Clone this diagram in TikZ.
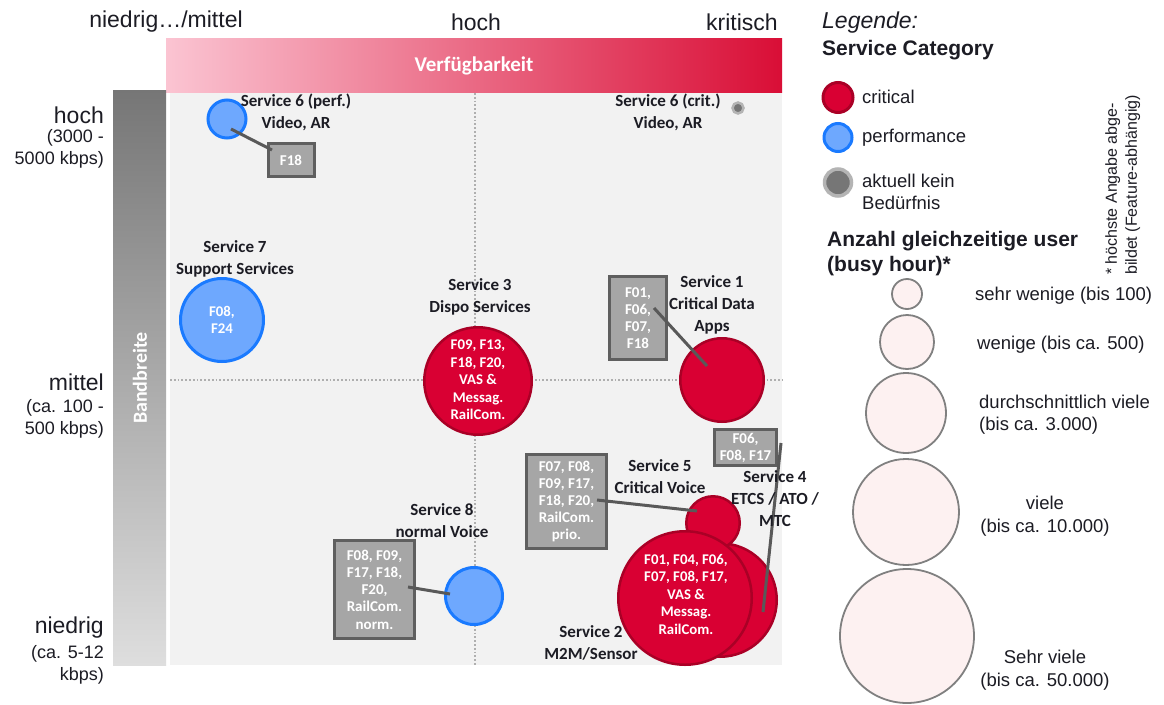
\documentclass[tikz,border=0pt]{standalone}
\usepackage{fontspec}
\setmainfont{Liberation Sans}
\newfontfamily\calfont{Carlito}
\usetikzlibrary{calc}

\definecolor{txt}{RGB}{28,28,36}
\definecolor{critfill}{RGB}{217,0,51}
\definecolor{critline}{RGB}{170,0,38}
\definecolor{perffill}{RGB}{110,168,254}
\definecolor{perfline}{RGB}{26,122,255}
\definecolor{boxfill}{RGB}{166,166,166}
\definecolor{boxline}{RGB}{95,95,95}
\definecolor{linkcol}{RGB}{89,89,89}
\definecolor{plotbg}{RGB}{242,242,242}
\definecolor{gridcol}{RGB}{175,175,175}
\definecolor{sizefill}{RGB}{253,241,241}
\definecolor{sizeline}{RGB}{128,128,128}
\definecolor{nodotfill}{RGB}{118,118,118}
\definecolor{nodotline}{RGB}{180,180,180}

\begin{document}
\begin{tikzpicture}[x=1pt,y=-1pt,
  axis/.style={font=\fontsize{23}{26}\selectfont, text=txt},
  sub/.style={font=\fontsize{18}{22}\selectfont, text=txt, align=right, anchor=east, inner sep=0pt},
  svc/.style={font=\calfont\bfseries\fontsize{17}{22}\selectfont, text=txt, align=center, inner sep=0pt},
  feat/.style={draw=boxline, line width=3pt, fill=boxfill, text=white,
    font=\calfont\bfseries\fontsize{15}{17.2}\selectfont, align=center, inner sep=0pt},
  intext/.style={text=white, font=\calfont\bfseries\fontsize{14.8}{17.5}\selectfont, align=center, inner sep=0pt},
  crit/.style={circle, draw=critline, line width=2.5pt, fill=critfill, inner sep=0pt},
  perf/.style={circle, draw=perfline, line width=3pt, fill=perffill, inner sep=0pt},
  nodot/.style={circle, draw=nodotline, line width=2.5pt, fill=nodotfill, inner sep=0pt},
  link/.style={draw=linkcol, line width=3pt},
  grid/.style={draw=gridcol, line width=1.8pt, dotted},
  sizec/.style={circle, draw=sizeline, line width=1.8pt, fill=sizefill, inner sep=0pt},
  leg/.style={font=\fontsize{18.5}{21.5}\selectfont, text=txt, align=left, anchor=west, inner sep=0pt},
  legc/.style={font=\fontsize{18.5}{23}\selectfont, text=txt, align=center, inner sep=0pt},
  head/.style={font=\bfseries\fontsize{21}{25}\selectfont, text=txt, align=left, anchor=west, inner sep=0pt},
]
\useasboundingbox (0,0) rectangle (1164,704);
\fill[white] (0,0) rectangle (1164,704);

% ---------- axes ----------
\shade[left color={rgb,255:red,251;green,196;blue,210},
       middle color={rgb,255:red,238;green,142;blue,158},
       right color={rgb,255:red,217;green,14;blue,54}]
  (166,38) rectangle (782,92);
\node[text=white, font=\calfont\bfseries\fontsize{21}{24}\selectfont] (avail) at (474,66) {Verfügbarkeit};

\shade[top color={rgb,255:red,118;green,118;blue,118},
       bottom color={rgb,255:red,222;green,222;blue,222}]
  (113,90) rectangle (166,665);
\node[rotate=90, text=white, font=\calfont\bfseries\fontsize{20}{24}\selectfont] (bw) at (140,378) {Bandbreite};

\fill[plotbg] (170,93) rectangle (782,665);
\draw[grid] (475,93) -- (475,665);
\draw[grid] (170,380) -- (782,380);

\node[axis] (xlow) at (166,22) {niedrig…/mittel};
\node[axis] (xmid) at (476,22) {hoch};
\node[axis] (xhigh) at (742,22) {kritisch};

\node[axis, anchor=east, inner sep=0pt] (yhigh) at (104,115) {hoch};
\node[sub] (yhighs) at (104,149) {(3000 -\\5000 kbps)};
\node[axis, anchor=east, inner sep=0pt] (ymid) at (104,382) {mittel};
\node[sub] (ymids) at (104,419) {(ca. 100 -\\500 kbps)};
\node[axis, anchor=east, inner sep=0pt] (ylow) at (104,628) {niedrig};
\node[sub] (ylows) at (104,665) {(ca. 5-12\\kbps)};

% ---------- services ----------
\node[crit, minimum size=113.5pt] (s4) at (720,600) {};
\node[crit, minimum size=53.5pt] (s5) at (713,523) {};
\node[crit, minimum size=133.5pt] (s2) at (685,598) {};
\node[crit, minimum size=107.5pt] (s3) at (478,381) {};
\node[crit, minimum size=83.5pt] (s1) at (722,380) {};
\node[perf, minimum size=83pt] (s7) at (222,320) {};
\node[perf, minimum size=38pt] (s6p) at (227,119) {};
\node[perf, minimum size=57pt] (s8) at (474,596) {};
\node[nodot, minimum size=11pt] (s6c) at (738,108) {};

% feature boxes
\node[feat, minimum width=46pt, minimum height=33pt] (f6p) at (291,160) {F18};
\node[feat, minimum width=57pt, minimum height=83pt] (f1) at (638,318) {F01,\\F06,\\F07,\\F18};
\node[feat, minimum width=80pt, minimum height=94pt] (f5) at (566.5,501.5) {F07, F08,\\F09, F17,\\F18, F20,\\RailCom.\\prio.};
\node[feat, minimum width=62pt, minimum height=36pt] (f4) at (745.5,447.5) {F06,\\F08, F17};
\node[feat, minimum width=80pt, minimum height=98pt] (f8) at (374.5,589.5) {F08, F09,\\F17, F18,\\F20,\\RailCom.\\norm.};

% connector end points
\coordinate (s6p-c) at (231,129);
\coordinate (f6p-c) at (272,150);
\coordinate (f1-c) at (654,308);
\coordinate (s1-c) at (707,366);
\coordinate (f5-c) at (597,500);
\coordinate (s5-c) at (697,511);
\coordinate (f4-c) at (781,443);
\coordinate (s4-c) at (763,612);
\coordinate (f8-c) at (408,587);
\coordinate (s8-c) at (450,594);

\draw[link] (s6p-c) -- (f6p-c);
\draw[link] (f1-c) -- (s1-c);
\draw[link] (f5-c) -- (s5-c);
\draw[link] (f4-c) -- (s4-c);
\draw[link] (f8-c) -- (s8-c);

% texts inside circles
\node[intext] (s7t) at (222,320) {F08,\\F24};
\node[intext] (s3t) at (478,380) {F09, F13,\\F18, F20,\\VAS \&\\Messag.\\RailCom.};
\node[intext] (s2t) at (686,594) {F01, F04, F06,\\F07, F08, F17,\\VAS \&\\Messag.\\RailCom.};

% service labels
\node[svc] (l6p) at (296,112) {Service 6 (perf.)\\Video, AR};
\node[svc] (l6c) at (668,112) {Service 6 (crit.)\\Video, AR};
\node[svc] (l7) at (235,259) {Service 7\\Support Services};
\node[svc] (l3) at (480,297) {Service 3\\Dispo Services};
\node[svc] (l1) at (712,305) {Service 1\\Critical Data\\Apps};
\node[svc] (l5) at (660,477) {Service 5\\Critical Voice};
\node[svc] (l4) at (775,499) {Service 4\\ETCS / ATO /\\MTC};
\node[svc] (l8) at (442,521) {Service 8\\normal Voice};
\node[svc] (l2) at (591,643) {Service 2\\M2M/Sensor};

% ---------- legend ----------
\node[font=\itshape\fontsize{23}{26}\selectfont, text=txt, anchor=west, inner sep=0pt] (lg) at (822,23) {Legende:};
\node[head] (lgcat) at (822,50) {Service Category};

\node[crit, minimum size=30pt, line width=3pt] (lgc1) at (838,97.5) {};
\node[leg] (lgt1) at (862,97) {critical};
\node[perf, minimum size=28pt] (lgc2) at (838,137.5) {};
\node[leg] (lgt2) at (862,138) {performance};
\node[nodot, minimum size=27pt, line width=3.5pt] (lgc3) at (838,182.5) {};
\node[leg] (lgt3) at (862,192) {aktuell kein\\Bedürfnis};

\node[rotate=90, font=\fontsize{16}{20}\selectfont, text=txt, align=left, anchor=north west, inner sep=0pt] (note) at (1105,275) {* höchste Angabe abge-\\bildet (Feature-abhängig)};

\node[head] (lgusr) at (827,254) {Anzahl gleichzeitige user\\(busy hour)*};

\node[sizec, minimum size=30pt] (z1) at (907,294) {};
\node[sizec, minimum size=54pt] (z2) at (907,342) {};
\node[sizec, minimum size=80pt] (z3) at (906,413) {};
\node[sizec, minimum size=106pt] (z4) at (906,512) {};
\node[sizec, minimum size=134pt] (z5) at (907,636) {};

\node[leg] (zt1) at (975,296) {sehr wenige (bis 100)};
\node[leg] (zt2) at (977,345) {wenige (bis ca. 500)};
\node[leg] (zt3) at (979,414.5) {durchschnittlich viele\\(bis ca. 3.000)};
\node[legc] (zt4) at (1045,516) {viele\\(bis ca. 10.000)};
\node[legc] (zt5) at (1045,670) {Sehr viele\\(bis ca. 50.000)};
\end{tikzpicture}
\end{document}
